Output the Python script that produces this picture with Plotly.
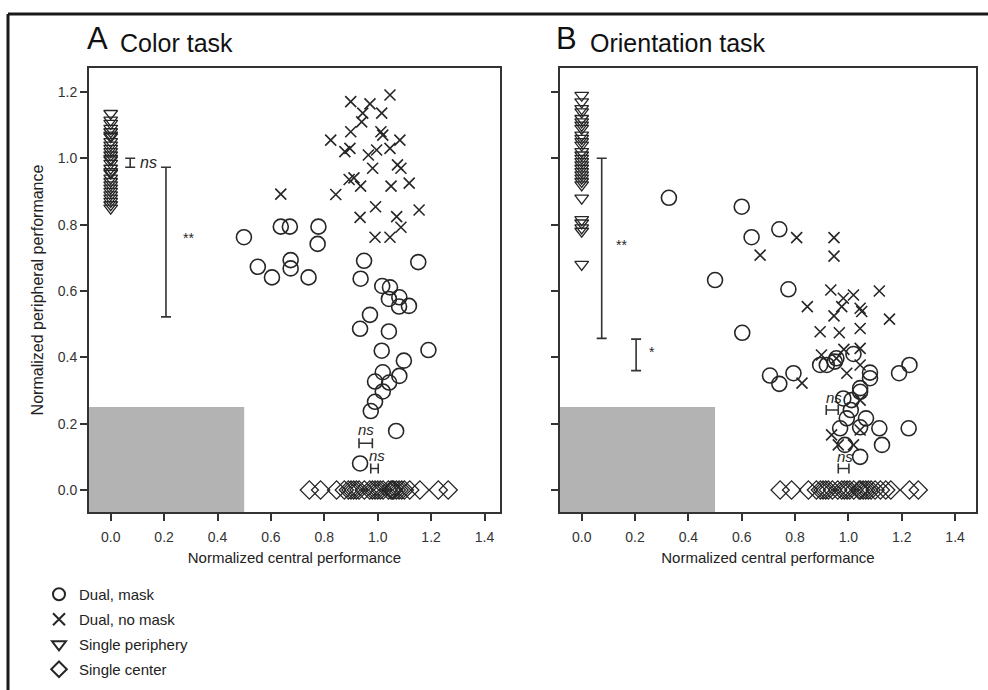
import plotly.graph_objects as go

# ---------------- data ----------------
# Panel A (Color task)
A_mask_x = [0.499, 0.637, 0.671, 0.778, 0.775, 0.551, 0.674, 0.674, 0.604, 0.741, 0.949, 1.152, 0.936,
            1.017, 1.046, 1.042, 1.081, 1.080, 1.117, 0.971, 0.934, 1.042, 1.015, 1.190, 1.098, 1.019,
            1.081, 0.990, 1.043, 1.019, 0.990, 0.974, 1.069, 0.934]
A_mask_y = [0.762, 0.794, 0.794, 0.794, 0.742, 0.673, 0.693, 0.668, 0.641, 0.641, 0.691, 0.687, 0.637,
            0.615, 0.611, 0.576, 0.581, 0.553, 0.555, 0.528, 0.486, 0.478, 0.420, 0.422, 0.390, 0.355,
            0.344, 0.327, 0.324, 0.297, 0.266, 0.238, 0.178, 0.080]
A_nomask_x = [0.899, 0.971, 1.046, 1.015, 0.944, 0.940, 0.899, 1.012, 1.019, 0.824, 1.083, 0.877, 0.896,
              0.965, 0.996, 1.046, 0.981, 1.074, 1.087, 0.893, 0.911, 0.936, 1.050, 1.118, 0.637, 0.843,
              0.992, 1.155, 0.934, 1.071, 1.087, 0.990, 1.046]
A_nomask_y = [1.171, 1.164, 1.191, 1.136, 1.136, 1.110, 1.080, 1.080, 1.070, 1.055, 1.055, 1.020, 1.030,
              1.010, 1.025, 1.030, 0.970, 0.980, 0.970, 0.936, 0.941, 0.916, 0.916, 0.925, 0.892, 0.891,
              0.854, 0.844, 0.822, 0.824, 0.792, 0.762, 0.762]
A_periph_y = [1.135, 1.115, 1.105, 1.09, 1.08, 1.07, 1.065, 1.05, 1.04, 1.03, 1.02, 1.01, 1.0, 0.995,
              0.985, 0.97, 0.96, 0.955, 0.94, 0.93, 0.92, 0.91, 0.90, 0.89, 0.88, 0.87, 0.86, 0.85]
A_center_x = [0.744, 0.786, 0.846, 0.875, 0.89, 0.90, 0.91, 0.92, 0.93, 0.95, 0.97, 0.98, 0.99, 1.00,
              1.01, 1.02, 1.04, 1.05, 1.055, 1.06, 1.07, 1.08, 1.09, 1.10, 1.12, 1.158, 1.227, 1.264]

# Panel B (Orientation task)
B_mask_x = [0.327, 0.600, 0.637, 0.741, 0.500, 0.775, 0.602, 0.894, 0.919, 0.955, 0.949, 1.019, 0.706,
            0.741, 0.794, 1.081, 1.081, 1.190, 1.229, 1.044, 1.044, 1.012, 0.981, 1.009, 0.994, 1.066,
            0.969, 1.044, 1.116, 1.226, 1.126, 0.987, 1.044]
B_mask_y = [0.881, 0.854, 0.762, 0.786, 0.633, 0.605, 0.474, 0.377, 0.377, 0.397, 0.387, 0.410, 0.345,
            0.320, 0.352, 0.354, 0.337, 0.352, 0.377, 0.307, 0.296, 0.271, 0.276, 0.241, 0.216, 0.216,
            0.186, 0.189, 0.186, 0.186, 0.136, 0.136, 0.100]
B_nomask_x = [0.806, 0.946, 0.946, 0.669, 0.934, 0.981, 1.019, 1.116, 0.846, 0.975, 1.044, 1.050, 0.946,
              1.154, 0.894, 0.966, 1.044, 0.983, 1.044, 0.899, 0.955, 0.994, 1.044, 0.826, 1.044, 0.937,
              0.962, 1.019, 1.044]
B_nomask_y = [0.761, 0.761, 0.705, 0.708, 0.603, 0.578, 0.588, 0.600, 0.553, 0.553, 0.548, 0.538, 0.525,
              0.515, 0.477, 0.474, 0.487, 0.424, 0.427, 0.407, 0.397, 0.352, 0.377, 0.322, 0.271, 0.166,
              0.136, 0.136, 0.181]
B_periph_y = [1.19, 1.17, 1.15, 1.14, 1.12, 1.11, 1.10, 1.09, 1.07, 1.06, 1.05, 1.04, 1.02, 1.01, 1.0,
              0.99, 0.98, 0.97, 0.96, 0.95, 0.94, 0.93, 0.92, 0.88, 0.815, 0.805, 0.79, 0.78, 0.68]
B_center_x = [0.744, 0.787, 0.85, 0.88, 0.895, 0.905, 0.915, 0.925, 0.94, 0.96, 0.975, 0.985, 0.995,
              1.005, 1.02, 1.04, 1.045, 1.055, 1.065, 1.075, 1.085, 1.10, 1.12, 1.14, 1.159, 1.229, 1.262]

# significance bars: vertical (x, y_low, y_high) and horizontal (y, x_low, x_high)
A_vbars = [(0.073, 0.973, 1.0, "ns"), (0.207, 0.522, 0.973, "**")]
A_hbars = [(0.141, 0.930, 0.980, "ns"), (0.065, 0.974, 1.002, "ns")]
B_vbars = [(0.075, 0.457, 1.0, "**"), (0.204, 0.36, 0.455, "*")]
B_hbars = [(0.241, 0.917, 0.962, "ns"), (0.065, 0.962, 1.002, "ns")]

labels = ["Dual, mask", "Dual, no mask", "Single periphery", "Single center"]
titles = [("A", "Color task"), ("B", "Orientation task")]
xticks = [0.0, 0.2, 0.4, 0.6, 0.8, 1.0, 1.2, 1.4]
yticks = [0.0, 0.2, 0.4, 0.6, 0.8, 1.0, 1.2]

# ---------------- figure ----------------
W, H = 988, 690
INK = "#262626"
FONT = "Liberation Sans, Arial, sans-serif"

def px_x(p):
    return p / W

def px_y(p):
    return 1 - p / H

fig = go.Figure()

panels = [
    dict(xa="x", ya="y", mask=(A_mask_x, A_mask_y), nomask=(A_nomask_x, A_nomask_y),
         periph=A_periph_y, center=A_center_x, vbars=A_vbars, hbars=A_hbars, legend=True),
    dict(xa="x2", ya="y2", mask=(B_mask_x, B_mask_y), nomask=(B_nomask_x, B_nomask_y),
         periph=B_periph_y, center=B_center_x, vbars=B_vbars, hbars=B_hbars, legend=False),
]

for p in panels:
    common = dict(xaxis=p["xa"], yaxis=p["ya"], mode="markers")
    fig.add_trace(go.Scatter(x=p["mask"][0], y=p["mask"][1], name=labels[0], legendgroup="g0",
                             showlegend=p["legend"],
                             marker=dict(symbol="circle-open", size=15, color=INK,
                                         line=dict(width=1.6, color=INK)), **common))
    fig.add_trace(go.Scatter(x=p["nomask"][0], y=p["nomask"][1], name=labels[1], legendgroup="g1",
                             showlegend=p["legend"],
                             marker=dict(symbol="x-thin-open", size=11, color=INK,
                                         line=dict(width=1.6, color=INK)), **common))
    fig.add_trace(go.Scatter(x=[0.0] * len(p["periph"]), y=p["periph"], name=labels[2], legendgroup="g2",
                             showlegend=p["legend"],
                             marker=dict(symbol="triangle-down-open", size=12, color=INK,
                                         line=dict(width=1.3, color=INK)), **common))
    fig.add_trace(go.Scatter(x=p["center"], y=[0.0] * len(p["center"]), name=labels[3], legendgroup="g3",
                             showlegend=p["legend"],
                             marker=dict(symbol="diamond-open", size=14, color=INK,
                                         line=dict(width=1.3, color=INK)), **common))
    # vertical significance bars
    for (bx, lo, hi, lab) in p["vbars"]:
        fig.add_trace(go.Scatter(x=[bx], y=[hi], xaxis=p["xa"], yaxis=p["ya"], mode="markers",
                                 showlegend=False, hoverinfo="skip",
                                 marker=dict(size=1, opacity=0),
                                 error_y=dict(type="data", symmetric=False, array=[0], arrayminus=[hi - lo],
                                              color="#333", thickness=1.6, width=5)))
    # horizontal significance bars
    for (by, lo, hi, lab) in p["hbars"]:
        fig.add_trace(go.Scatter(x=[lo], y=[by], xaxis=p["xa"], yaxis=p["ya"], mode="markers",
                                 showlegend=False, hoverinfo="skip",
                                 marker=dict(size=1, opacity=0),
                                 error_x=dict(type="data", symmetric=False, array=[hi - lo], arrayminus=[0],
                                              color="#333", thickness=1.6, width=5)))

annotations = []
# significance labels
sig_text = [
    ("x", "y", 0.101, 0.988, "<i>ns</i>", 16, "left"),
    ("x", "y", 0.262, 0.759, "**", 14, "left"),
    ("x", "y", 0.955, 0.183, "<i>ns</i>", 15, "center"),
    ("x", "y", 0.996, 0.105, "<i>ns</i>", 15, "center"),
    ("x2", "y2", 0.122, 0.739, "**", 14, "left"),
    ("x2", "y2", 0.245, 0.417, "*", 14, "left"),
    ("x2", "y2", 0.945, 0.278, "<i>ns</i>", 15, "center"),
    ("x2", "y2", 0.988, 0.102, "<i>ns</i>", 15, "center"),
]
for (xr, yr, xv, yv, t, s, al) in sig_text:
    annotations.append(dict(xref=xr, yref=yr, x=xv, y=yv, text=t, showarrow=False,
                            xanchor=al, yanchor="middle", font=dict(size=s, color=INK, family=FONT)))

# panel titles
for (lx, tx, (letter, name)) in [(88, 121, titles[0]), (557, 591, titles[1])]:
    annotations.append(dict(xref="paper", yref="paper", x=px_x(lx - 3), y=px_y(58), text=letter,
                            showarrow=False, xanchor="left", yanchor="bottom",
                            font=dict(size=31, color="#111", family=FONT)))
    annotations.append(dict(xref="paper", yref="paper", x=px_x(tx - 3), y=px_y(59), text=name,
                            showarrow=False, xanchor="left", yanchor="bottom",
                            font=dict(size=25, color="#111", family=FONT)))

fig.update_layout(annotations=annotations)

# grey region (performance below chance)
for xr, yr in [("x", "y"), ("x2", "y2")]:
    fig.add_shape(type="rect", xref=xr, yref=yr, x0=-0.2, x1=0.5, y0=-0.2, y1=0.25,
                  fillcolor="#b3b3b3", line=dict(width=0), layer="below")

# outer frame (top and left edges visible)
fig.add_shape(type="line", xref="paper", yref="paper", x0=px_x(8), x1=1.01, y0=px_y(14), y1=px_y(14),
              line=dict(color="#1a1a1a", width=3))
fig.add_shape(type="line", xref="paper", yref="paper", x0=px_x(8), x1=px_x(8), y0=px_y(14), y1=-0.01,
              line=dict(color="#1a1a1a", width=3))

axis_common = dict(showline=True, linecolor="#333", linewidth=2, mirror=True, ticks="outside",
                   ticklen=7, tickwidth=1.5, tickcolor="#333", showgrid=False, zeroline=False,
                   tickfont=dict(size=14, color="#333", family=FONT), fixedrange=True)
ydom = [px_y(512), px_y(68)]
yrange = [(490 - 512) / 331.7, (490 - 68) / 331.7]

fig.update_layout(
    width=W, height=H,
    margin=dict(l=0, r=0, t=0, b=0),
    paper_bgcolor="white", plot_bgcolor="white",
    font=dict(family=FONT, color=INK),
    xaxis=dict(domain=[px_x(89), px_x(500)], range=[(89 - 110.7) / 267, (500 - 110.7) / 267],
               tickvals=xticks, tickformat=".1f", ticklabelstandoff=4,
               title=dict(text="Normalized central performance", font=dict(size=15, color="#222"), standoff=9),
               anchor="y", **axis_common),
    yaxis=dict(domain=ydom, range=yrange, tickvals=yticks, tickformat=".1f",
               title=dict(text="Normalized peripheral performance", font=dict(size=16, color="#222"), standoff=10),
               anchor="x", **axis_common),
    xaxis2=dict(domain=[px_x(560), px_x(976)], range=[(560 - 581.7) / 266.7, (976 - 581.7) / 266.7],
                tickvals=xticks, tickformat=".1f", ticklabelstandoff=4,
                title=dict(text="Normalized central performance", font=dict(size=15, color="#222"), standoff=9),
                anchor="y2", **axis_common),
    yaxis2=dict(domain=ydom, range=yrange, tickvals=yticks, showticklabels=False,
                anchor="x2", **axis_common),
    legend=dict(x=px_x(39), y=px_y(578), xanchor="left", yanchor="top", bgcolor="rgba(0,0,0,0)",
                font=dict(size=15, color="#222", family=FONT), tracegroupgap=2.5, itemwidth=30,
                itemsizing="constant"),
    showlegend=True,
)

fig.write_html("out.html")
